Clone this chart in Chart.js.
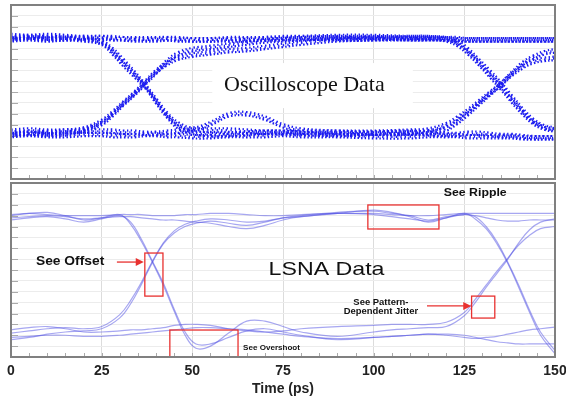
<!DOCTYPE html>
<html>
<head>
<meta charset="utf-8">
<script src="https://cdn.jsdelivr.net/npm/chart.js@4.4.1/dist/chart.umd.min.js"></script>
<style>
  html, body { margin: 0; padding: 0; background: #fff; }
  #wrap { position: relative; width: 566px; height: 399px; }
  #top { position: absolute; left: 0; top: 0; }
  #bottom { position: absolute; left: 0; top: 181px; }
</style>
</head>
<body>
<div id="wrap">
  <canvas id="top" width="566" height="183"></canvas>
  <canvas id="bottom" width="566" height="218"></canvas>
</div>
<script>
// time axis (ps)
const xTicks = [0, 25, 50, 75, 100, 125, 150];

// oscilloscope traces (upper panel), y in grid divisions 0..16
const scopeX = [0, 5, 10, 15, 20, 25, 28, 31, 34, 37, 40, 43, 46, 50, 55, 60, 65, 70, 75, 80, 90, 100, 110, 115, 120, 123, 126, 129, 132, 135, 138, 141, 144, 147, 150];
const scopeFallBump = [13.0, 13.1, 13.0, 13.0, 12.9, 12.6, 11.9, 10.9, 9.8, 8.6, 7.3, 6.0, 5.1, 4.6, 5.1, 5.9, 6.0, 5.6, 4.9, 4.5, 4.3, 4.2, 4.2, 4.3, 4.6, 5.2, 6.0, 6.9, 7.8, 8.7, 9.7, 10.6, 11.2, 11.6, 11.8];
const scopeFallLow = [12.8, 12.9, 12.8, 12.9, 12.8, 12.5, 11.6, 10.5, 9.5, 8.5, 7.1, 5.8, 4.8, 4.3, 4.1, 4.1, 4.2, 4.3, 4.3, 4.2, 4.1, 4.2, 4.3, 4.2, 4.1, 4.1, 4.2, 4.2, 4.1, 4.0, 4.0, 3.9, 3.8, 3.8, 3.8];
const scopeRiseFall = [4.3, 4.2, 4.3, 4.4, 4.6, 5.3, 6.1, 7.0, 7.9, 8.9, 9.9, 10.6, 11.1, 11.4, 11.6, 11.8, 11.9, 12.1, 12.3, 12.5, 12.8, 12.9, 13.0, 13.0, 12.8, 12.4, 11.6, 10.6, 9.5, 8.4, 7.2, 6.1, 5.2, 4.7, 4.5];
const scopeRiseHigh = [4.1, 4.2, 4.1, 4.2, 4.5, 5.1, 5.9, 6.9, 7.8, 8.8, 9.8, 10.8, 11.5, 11.9, 12.1, 12.3, 12.5, 12.7, 12.8, 12.9, 13.0, 13.0, 12.9, 12.9, 12.9, 12.8, 12.8, 12.8, 12.8, 12.8, 12.8, 12.8, 12.8, 12.8, 12.8];
const scopeHighFall = [13.2, 13.1, 13.2, 13.1, 13.0, 13.0, 13.0, 12.9, 12.9, 12.9, 12.9, 12.9, 12.8, 12.8, 12.8, 12.8, 12.8, 12.9, 12.9, 13.0, 13.1, 13.1, 13.0, 13.0, 12.9, 12.6, 11.9, 10.9, 9.9, 8.8, 7.6, 6.4, 5.4, 4.8, 4.6];
const scopeLowRise = [4.4, 4.5, 4.4, 4.4, 4.4, 4.4, 4.4, 4.3, 4.3, 4.2, 4.2, 4.3, 4.4, 4.5, 4.5, 4.5, 4.4, 4.3, 4.3, 4.3, 4.3, 4.3, 4.4, 4.5, 5.0, 5.6, 6.3, 7.1, 7.9, 8.7, 9.6, 10.3, 10.8, 11.0, 11.1];
const scopeHigh = [12.9, 13.0, 12.9, 12.9, 13.0, 13.0, 12.9, 12.9, 12.8, 12.8, 12.8, 12.9, 12.9, 12.8, 12.8, 12.9, 12.9, 12.9, 13.0, 13.0, 12.9, 12.9, 12.9, 12.9, 12.9, 12.9, 12.8, 12.8, 12.8, 12.8, 12.8, 12.8, 12.8, 12.8, 12.8];
const scopeLow = [4.0, 4.1, 4.0, 4.0, 4.1, 4.1, 4.0, 4.0, 4.0, 4.1, 4.1, 4.0, 4.0, 3.9, 3.9, 4.0, 4.0, 4.0, 4.1, 4.0, 4.0, 3.9, 3.9, 4.0, 4.0, 4.0, 3.9, 3.9, 3.9, 3.9, 3.9, 3.8, 3.8, 3.8, 3.8];

// LSNA traces (lower panel)
const lsnaX = [0, 5, 10, 15, 20, 25, 30, 33, 36, 39, 42, 45, 48, 51, 55, 60, 65, 70, 75, 80, 90, 100, 105, 110, 115, 120, 125, 128, 131, 134, 137, 140, 143, 146, 150];
const lsnaFallOvershoot = [13.0, 13.2, 13.3, 13.0, 12.6, 12.8, 13.1, 12.2, 10.6, 8.7, 6.6, 4.2, 2.0, 0.8, 1.0, 2.2, 3.3, 3.3, 2.8, 2.3, 1.9, 2.3, 2.5, 2.6, 2.7, 2.8, 3.8, 5.0, 6.4, 7.7, 9.0, 10.5, 11.7, 12.4, 12.7];
const lsnaFallLow = [12.6, 12.8, 12.9, 12.7, 12.4, 12.7, 13.0, 12.4, 10.8, 8.8, 6.8, 4.4, 2.3, 1.2, 1.2, 1.8, 2.4, 2.6, 2.3, 2.0, 1.6, 1.8, 1.9, 2.0, 2.1, 2.0, 1.8, 1.7, 1.8, 1.9, 2.1, 2.3, 2.5, 2.6, 2.75];
const lsnaRiseFall = [1.6, 1.8, 2.1, 2.3, 2.4, 2.6, 3.6, 4.9, 6.7, 8.7, 10.4, 11.4, 12.0, 12.3, 12.5, 12.3, 12.1, 12.4, 12.8, 12.9, 13.2, 13.1, 12.9, 12.7, 12.5, 12.8, 13.1, 12.9, 12.0, 10.6, 8.7, 6.6, 4.3, 2.3, 0.6];
const lsnaRiseHigh = [2.2, 2.4, 2.6, 2.7, 2.6, 2.8, 3.9, 5.2, 6.9, 8.8, 10.5, 11.6, 12.2, 12.5, 12.7, 12.6, 12.4, 12.5, 12.8, 13.0, 13.3, 13.4, 13.2, 13.0, 12.6, 12.9, 13.1, 13.0, 12.8, 12.6, 12.5, 12.5, 12.6, 12.6, 12.6];
const lsnaHighFall = [12.8, 12.9, 13.0, 12.9, 12.7, 12.8, 12.9, 12.9, 12.8, 12.7, 12.6, 12.6, 12.5, 12.4, 12.3, 12.0, 11.8, 12.1, 12.6, 12.9, 13.2, 13.5, 13.3, 12.9, 12.4, 12.8, 13.2, 12.7, 11.8, 10.4, 8.6, 6.4, 4.1, 2.0, 0.3];
const lsnaLowRise = [2.5, 2.7, 2.8, 2.6, 2.3, 2.3, 2.4, 2.5, 2.5, 2.6, 2.7, 2.9, 3.0, 3.0, 2.9, 2.6, 2.4, 2.3, 2.4, 2.6, 2.8, 2.9, 3.0, 3.0, 3.0, 3.2, 4.1, 5.3, 6.6, 7.9, 9.1, 10.3, 11.2, 11.8, 12.0];
const lsnaHigh = [13.1, 13.2, 13.1, 13.0, 13.0, 13.0, 13.1, 13.1, 13.1, 13.0, 13.0, 13.0, 13.1, 13.1, 13.2, 13.2, 13.1, 13.0, 13.0, 13.1, 13.2, 13.2, 13.1, 13.0, 13.0, 13.1, 13.2, 13.2, 13.2, 13.2, 13.2, 13.2, 13.2, 13.2, 13.2];
const lsnaLow = [1.8, 1.9, 2.0, 2.0, 1.9, 1.9, 2.0, 2.1, 2.2, 2.3, 2.4, 2.5, 2.6, 2.7, 2.7, 2.6, 2.5, 2.3, 2.1, 1.9, 1.7, 1.8, 1.9, 2.0, 2.1, 2.1, 2.0, 1.8, 1.6, 1.4, 1.3, 1.2, 1.2, 1.2, 1.2];

const scopeTraces = [scopeFallBump, scopeFallLow, scopeRiseFall, scopeRiseHigh, scopeHighFall, scopeLowRise, scopeHigh, scopeLow];
const lsnaTraces = [lsnaFallOvershoot, lsnaFallLow, lsnaRiseFall, lsnaRiseHigh, lsnaHighFall, lsnaLowRise, lsnaHigh, lsnaLow];

// annotation boxes in data units: [x0, x1, y0, y1]
const boxOffset = [36.9, 41.9, 5.6, 9.56];
const boxOvershoot = [43.8, 62.6, 0, 2.48];
const boxRipple = [98.4, 118, 11.77, 13.98];
const boxJitter = [127, 133.4, 3.58, 5.6];

const SANS = '"Liberation Sans", Arial, sans-serif';

const panelDeco = {
  id: 'panelDeco',
  beforeDatasetsDraw(chart) {
    const { ctx, chartArea: a, scales: { x, y } } = chart;
    ctx.save();
    ctx.strokeStyle = '#aaa';
    ctx.lineWidth = 1;
    ctx.beginPath();
    for (let v = 1; v < 16; v++) {
      const py = Math.round(y.getPixelForValue(v)) + 0.5;
      ctx.moveTo(a.left, py);
      ctx.lineTo(a.left + 7, py);
    }
    for (let t = 5; t < 150; t += 5) {
      const px = Math.round(x.getPixelForValue(t)) + 0.5;
      ctx.moveTo(px, a.bottom);
      ctx.lineTo(px, a.bottom - 4);
    }
    ctx.stroke();
    ctx.restore();
  },
  afterDraw(chart) {
    const { ctx, chartArea: a } = chart;
    ctx.save();
    ctx.strokeStyle = '#808080';
    ctx.lineWidth = 2;
    ctx.strokeRect(a.left, a.top, a.right - a.left, a.bottom - a.top);
    ctx.restore();
  }
};

// the scope bands are drawn a few times, nudged up/down, to look like a dot cloud
const bandShift = {
  id: 'bandShift',
  beforeDatasetDraw(chart, args) {
    const s = chart.data.datasets[args.index].shiftY || 0;
    chart.ctx.save();
    chart.ctx.translate(0, s);
  },
  afterDatasetDraw(chart) {
    chart.ctx.restore();
  }
};

// the labels in the figure use a wide face, so stretch the text a little
function wideText(ctx, text, x, y, sx) {
  ctx.save();
  ctx.translate(x, y);
  ctx.scale(sx, 1);
  ctx.fillText(text, 0, 0);
  ctx.restore();
}

const scopeLabel = {
  id: 'scopeLabel',
  beforeDatasetsDraw(chart) {
    const { ctx, scales: { x, y } } = chart;
    const x0 = x.getPixelForValue(55.5), x1 = x.getPixelForValue(110.8);
    const y0 = y.getPixelForValue(10.66), y1 = y.getPixelForValue(6.52);
    ctx.save();
    ctx.fillStyle = '#fff';
    ctx.fillRect(x0, y0, x1 - x0, y1 - y0);
    ctx.fillStyle = '#111';
    ctx.font = '22px "Liberation Serif", "Times New Roman", serif';
    ctx.textAlign = 'center';
    ctx.textBaseline = 'middle';
    ctx.fillText('Oscilloscope Data', x.getPixelForValue(80.9), y.getPixelForValue(8.6));
    ctx.restore();
  }
};

function arrow(ctx, x0, y0, x1, y1) {
  ctx.beginPath();
  ctx.moveTo(x0, y0);
  ctx.lineTo(x1 - 6, y1);
  ctx.stroke();
  ctx.beginPath();
  ctx.moveTo(x1, y1);
  ctx.lineTo(x1 - 8, y1 - 4);
  ctx.lineTo(x1 - 8, y1 + 4);
  ctx.closePath();
  ctx.fill();
}

const lsnaNotes = {
  id: 'lsnaNotes',
  afterDatasetsDraw(chart) {
    const { ctx, scales: { x, y } } = chart;
    ctx.save();
    ctx.strokeStyle = '#e8312f';
    ctx.fillStyle = '#e8312f';
    ctx.lineWidth = 1.3;
    [boxOffset, boxOvershoot, boxRipple, boxJitter].forEach(b => {
      const px0 = x.getPixelForValue(b[0]), px1 = x.getPixelForValue(b[1]);
      const py0 = y.getPixelForValue(b[3]), py1 = y.getPixelForValue(b[2]);
      ctx.strokeRect(px0, py0, px1 - px0, py1 - py0);
    });
    arrow(ctx, x.getPixelForValue(29.2), y.getPixelForValue(8.73), x.getPixelForValue(36.6), y.getPixelForValue(8.73));
    arrow(ctx, x.getPixelForValue(114.7), y.getPixelForValue(4.7), x.getPixelForValue(126.9), y.getPixelForValue(4.7));

    ctx.fillStyle = '#111';
    ctx.textAlign = 'center';
    ctx.textBaseline = 'middle';
    ctx.font = 'bold 12px ' + SANS;
    wideText(ctx, 'See Offset', x.getPixelForValue(16.3), y.getPixelForValue(8.73), 1.15);
    ctx.font = 'bold 11px ' + SANS;
    wideText(ctx, 'See Ripple', x.getPixelForValue(128), y.getPixelForValue(15.08), 1.12);
    ctx.font = 'bold 9px ' + SANS;
    wideText(ctx, 'See Pattern-', x.getPixelForValue(102), y.getPixelForValue(5.0), 1.05);
    wideText(ctx, 'Dependent Jitter', x.getPixelForValue(102), y.getPixelForValue(4.17), 1.05);
    ctx.font = 'bold 7px ' + SANS;
    ctx.textAlign = 'left';
    wideText(ctx, 'See Overshoot', x.getPixelForValue(64), y.getPixelForValue(0.82), 1.15);
    ctx.font = '19px ' + SANS;
    ctx.textAlign = 'center';
    wideText(ctx, 'LSNA Data', x.getPixelForValue(87), y.getPixelForValue(8.0), 1.22);
    ctx.restore();
  }
};

function baseScales(showTicks) {
  return {
    x: {
      type: 'linear', min: 0, max: 150,
      grid: { color: '#dcdcdc', drawTicks: false },
      border: { display: false },
      ticks: {
        display: showTicks, stepSize: 25, padding: 6, color: '#222',
        font: { family: SANS, size: 14, weight: 'bold' },
        callback: v => xTicks.includes(v) ? String(v) : ''
      },
      title: {
        display: showTicks, text: 'Time (ps)', color: '#222',
        font: { family: SANS, size: 14, weight: 'bold' },
        padding: { top: 0, bottom: 1 }
      },
      afterFit: s => { s.height = showTicks ? 42 : 0; s.paddingLeft = 0; s.paddingRight = 0; }
    },
    y: {
      min: 0, max: 16,
      grid: { color: '#ececec', drawTicks: false },
      border: { display: false },
      ticks: { display: false, stepSize: 1 },
      afterFit: s => { s.width = 0; }
    }
  };
}

const scopeSets = [];
scopeTraces.forEach(t => {
  [[-1.7, 0, [1.4, 2.6]], [0.1, 1.1, [1.3, 3.3]], [1.8, 2.2, [1.5, 2.1]]].forEach(([shiftY, dashOff, dash]) => {
    scopeSets.push({
      data: scopeX.map((x, i) => ({ x, y: t[i] })),
      shiftY,
      borderColor: '#1c1cf0',
      borderWidth: 2.2,
      borderDash: dash,
      borderDashOffset: dashOff,
      pointRadius: 0,
      tension: 0.4,
      fill: false
    });
  });
});

new Chart(document.getElementById('top'), {
  type: 'line',
  data: { datasets: scopeSets },
  options: {
    responsive: false,
    animation: false,
    layout: { padding: { left: 11, right: 11, top: 5, bottom: 4 } },
    plugins: { legend: { display: false }, tooltip: { enabled: false } },
    scales: baseScales(false)
  },
  plugins: [panelDeco, scopeLabel, bandShift]
});

new Chart(document.getElementById('bottom'), {
  type: 'line',
  data: {
    datasets: lsnaTraces.map(t => ({
      data: lsnaX.map((x, i) => ({ x, y: t[i] })),
      borderColor: 'rgba(80, 80, 228, 0.5)',
      borderWidth: 1.2,
      pointRadius: 0,
      tension: 0.4,
      fill: false
    }))
  },
  options: {
    responsive: false,
    animation: false,
    layout: { padding: { left: 11, right: 11, top: 2, bottom: 0 } },
    plugins: { legend: { display: false }, tooltip: { enabled: false } },
    scales: baseScales(true)
  },
  plugins: [panelDeco, lsnaNotes]
});
</script>
</body>
</html>
